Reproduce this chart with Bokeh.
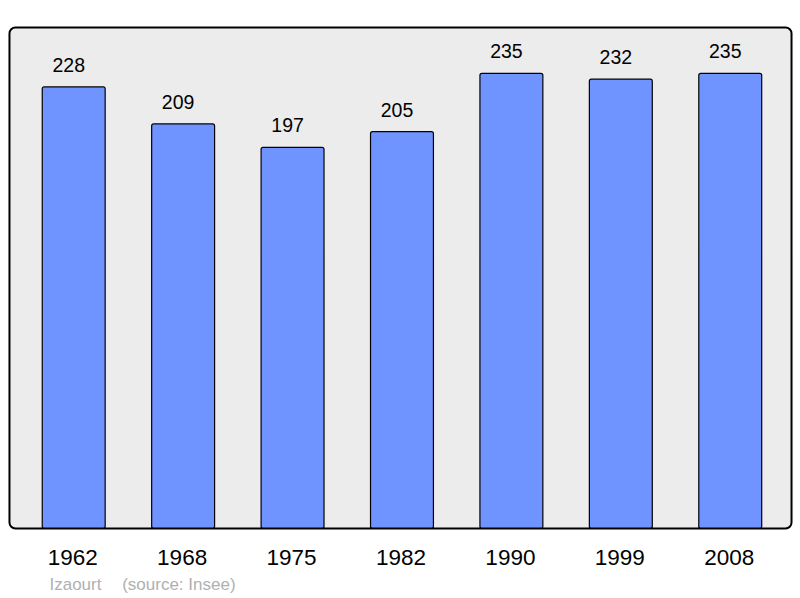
from bokeh.plotting import figure
from bokeh.models import ColumnDataSource, Range1d
from bokeh.core.properties import value
from bokeh.embed import file_html
from bokeh.resources import INLINE

years = ["1962", "1968", "1975", "1982", "1990", "1999", "2008"]
population = [228, 209, 197, 205, 235, 232, 235]
commune = "Izaourt"
source_note = "(source: Insee)"

FONT = value("Liberation Sans")

# panel bounds in data units
X0, X1 = -0.587, 6.56
Y0, Y1 = 1.2, 258.5

pos = list(range(len(years)))
src = ColumnDataSource(dict(x=pos, top=population,
                            lbl=[str(v) for v in population],
                            year=years, base=[Y0] * len(years)))

p = figure(width=800, height=598,
           x_range=Range1d(-0.669, 6.642), y_range=Range1d(-34.75, 272.4),
           x_axis_location=None, y_axis_location=None,
           output_backend="svg", toolbar_location=None,
           min_border=0)
p.grid.visible = False
p.outline_line_color = None
p.background_fill_color = "white"
p.border_fill_color = "white"

# grey panel with rounded corners
p.quad(left=[X0], right=[X1], bottom=[Y0], top=[Y1],
       fill_color="#ececec", line_color=None, border_radius=6)

p.vbar(x="x", top="top", bottom=Y0, width=0.575, source=src,
       fill_color="#7094ff", line_color="black", line_width=1.2, border_radius=2)

# panel outline on top
p.quad(left=[X0], right=[X1], bottom=[Y0], top=[Y1],
       fill_color=None, line_color="black", line_width=2, border_radius=6)

p.text(x="x", y="top", text="lbl", source=src, x_offset=-5, y_offset=-22,
       text_align="center", text_baseline="alphabetic",
       text_font=FONT, text_font_size="19.5px", text_color="black")

p.text(x="x", y="base", text="year", source=src, x_offset=-1, y_offset=28.5,
       text_align="center", text_baseline="alphabetic",
       text_font=FONT, text_font_size="22.5px", text_color="black")

p.text(x=[X0], y=[Y0], text=[commune], x_offset=40, y_offset=55.5,
       text_align="left", text_baseline="alphabetic",
       text_font=FONT, text_font_size="17px", text_color="#b0b0b0")
p.text(x=[X0], y=[Y0], text=[source_note], x_offset=112.7, y_offset=55.5,
       text_align="left", text_baseline="alphabetic",
       text_font=FONT, text_font_size="17px", text_color="#b0b0b0")

open("out.html", "w").write(file_html(p, INLINE))
